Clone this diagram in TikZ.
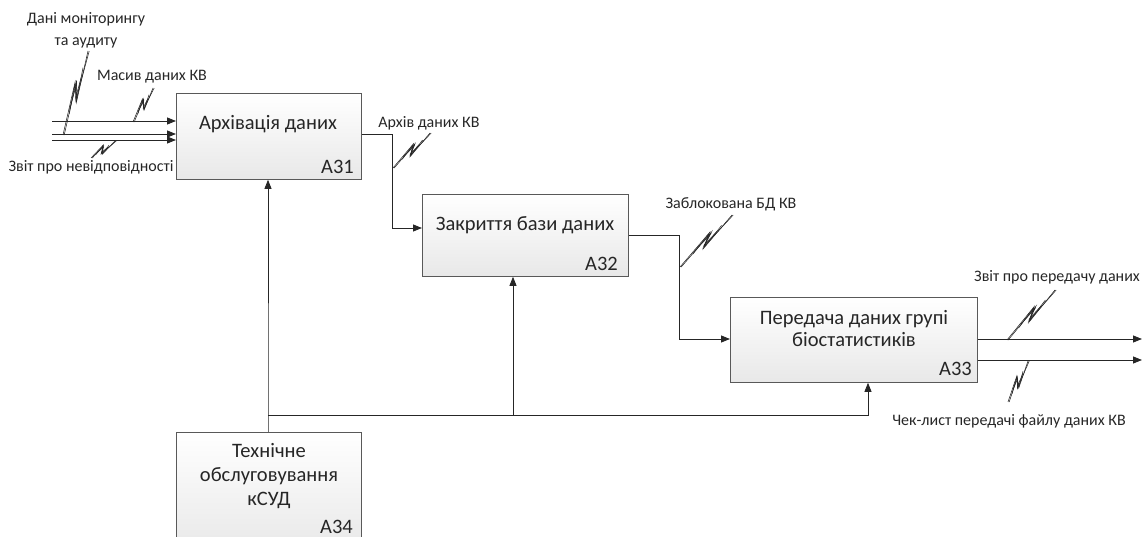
\documentclass[tikz,border=0pt]{standalone}
\usepackage{fontspec}
\setmainfont{Carlito}
\usetikzlibrary{arrows.meta,calc}
\tikzset{
  fbox/.style={draw=black!65, line width=0.8pt, top color=white, bottom color=black!9, inner sep=0pt, anchor=north west},
  conn/.style={draw=black!85, line width=0.8pt},
  arr/.style={conn, -{Triangle[length=9pt,width=7pt]}},
  lbl/.style={font=\fontsize{16}{22}\selectfont, inner sep=0pt, align=center, text=black!85},
  btxt/.style={font=\fontsize{20.5}{22}\selectfont, align=center, inner sep=0pt, text=black!85},
  btxtb/.style={font=\fontsize{20.5}{24}\selectfont, align=center, inner sep=0pt, text=black!85},
  num/.style={font=\fontsize{20.5}{22}\selectfont, inner sep=0pt, anchor=base east, text=black!85},
  sq/.style={line width=0.55pt, draw=black!85},
}
\newcommand{\squig}[2]{%
  \draw[sq] (#1) -- ($(#1)!0.62!(#2)!3.5pt!90:(#2)$) -- ($(#1)!0.4!(#2)!3.5pt!-90:(#2)$) -- (#2);
  \draw[sq] ($(#1)+(1.2,0)$) -- ($(#1)!0.64!(#2)!2.5pt!90:(#2)$) -- ($(#1)!0.42!(#2)!2.5pt!-90:(#2)$) -- ($(#2)+(1.2,0)$);
  \draw[sq] ($(#1)!0.25!(#2)$) -- ($(#1)!0.58!(#2)!3pt!90:(#2)$) -- ($(#1)!0.44!(#2)!3pt!-90:(#2)$) -- ($(#1)!0.8!(#2)$);
  \draw[sq] ($(#1)!0.3!(#2)!1pt!90:(#2)$) -- ($(#1)!0.6!(#2)!1.5pt!90:(#2)$) -- ($(#1)!0.45!(#2)!1.5pt!-90:(#2)$) -- ($(#1)!0.7!(#2)!1pt!-90:(#2)$);
}
\begin{document}
\begin{tikzpicture}[x=1pt,y=-1pt]
\clip (0,0) rectangle (1144,537);
% boxes
\node[fbox, minimum width=185pt, minimum height=86pt] (b1) at (176,93) {};
\node[fbox, minimum width=206pt, minimum height=82pt] (b2) at (422,194) {};
\node[fbox, minimum width=247pt, minimum height=85pt] (b3) at (730,297) {};
\node[fbox, minimum width=185pt, minimum height=120pt] (b4) at (176,432) {};
% box texts
\node[btxt] (t1) at (268,124) {Архівація даних};
\node[btxt] (t2) at (525,225) {Закриття бази даних};
\node[btxt] (t3) at (854,329) {Передача даних групі\\біостатистиків};
\node[btxtb] (t4) at (269,476) {Технічне\\обслуговування\\кСУД};
\node[num] (n1) at (354,174) {A31};
\node[num] (n2) at (618,271) {A32};
\node[num] (n3) at (972,376) {A33};
\node[num] (n4) at (353,533) {A34};
% input starts
\coordinate (s1) at (52,121);
\coordinate (s2) at (52,134);
\coordinate (s3) at (52,140);
\draw[arr] (s1) -- (s1 -| b1.west);
\draw[arr] (s2) -- (s2 -| b1.west);
\draw[arr] (s3) -- (s3 -| b1.west);
% A31 -> A32
\coordinate (k1) at (392,134);
\draw[arr] (k1 -| b1.east) -- (k1) |- (b2.west |- 0,228);
% A32 -> A33
\coordinate (k2) at (679,235);
\draw[arr] (k2 -| b2.east) -- (k2) |- (b3.west |- 0,339);
% outputs
\coordinate (e1) at (1142,339);
\coordinate (e2) at (1142,360);
\draw[arr] (e1 -| b3.east) -- (e1);
\draw[arr] (e2 -| b3.east) -- (e2);
% mechanism
\coordinate (m1) at (268,415);
\coordinate (m2) at (513,415);
\coordinate (m3) at (868,415);
\draw[arr] (b4.north -| m1) -- (m1) -- (m1 |- b1.south);
\draw[arr] (m1) -- (m2) -- (m2 |- b2.south);
\draw[arr] (m2) -- (m3) -- (m3 |- b3.south);
% labels
\node[lbl] (l1) at (86,30) {Дані моніторингу\\та аудиту};
\node[lbl] (l2) at (152,77) {Масив даних КВ};
\node[lbl] (l3) at (91,167) {Звіт про невідповідності};
\node[lbl] (l4) at (429,123) {Архів даних КВ};
\node[lbl] (l5) at (731,204) {Заблокована БД КВ};
\node[lbl] (l6) at (1057,277) {Звіт про передачу даних};
\node[lbl] (l7) at (1009,421) {Чек-лист передачі файлу даних КВ};
% squiggles
\coordinate (q1a) at (63,135); \coordinate (q1b) at (88,51);
\coordinate (q2a) at (133,122); \coordinate (q2b) at (153,88);
\coordinate (q3a) at (115,141); \coordinate (q3b) at (91,158);
\coordinate (q4a) at (393,168); \coordinate (q4b) at (430,133);
\coordinate (q5a) at (680,267); \coordinate (q5b) at (732,215);
\coordinate (q6a) at (1007,340); \coordinate (q6b) at (1055,290);
\coordinate (q7a) at (1028,361); \coordinate (q7b) at (1008,402);
\squig{q1a}{q1b}
\squig{q2a}{q2b}
\squig{q3a}{q3b}
\squig{q4a}{q4b}
\squig{q5a}{q5b}
\squig{q6a}{q6b}
\squig{q7a}{q7b}
\end{tikzpicture}
\end{document}
